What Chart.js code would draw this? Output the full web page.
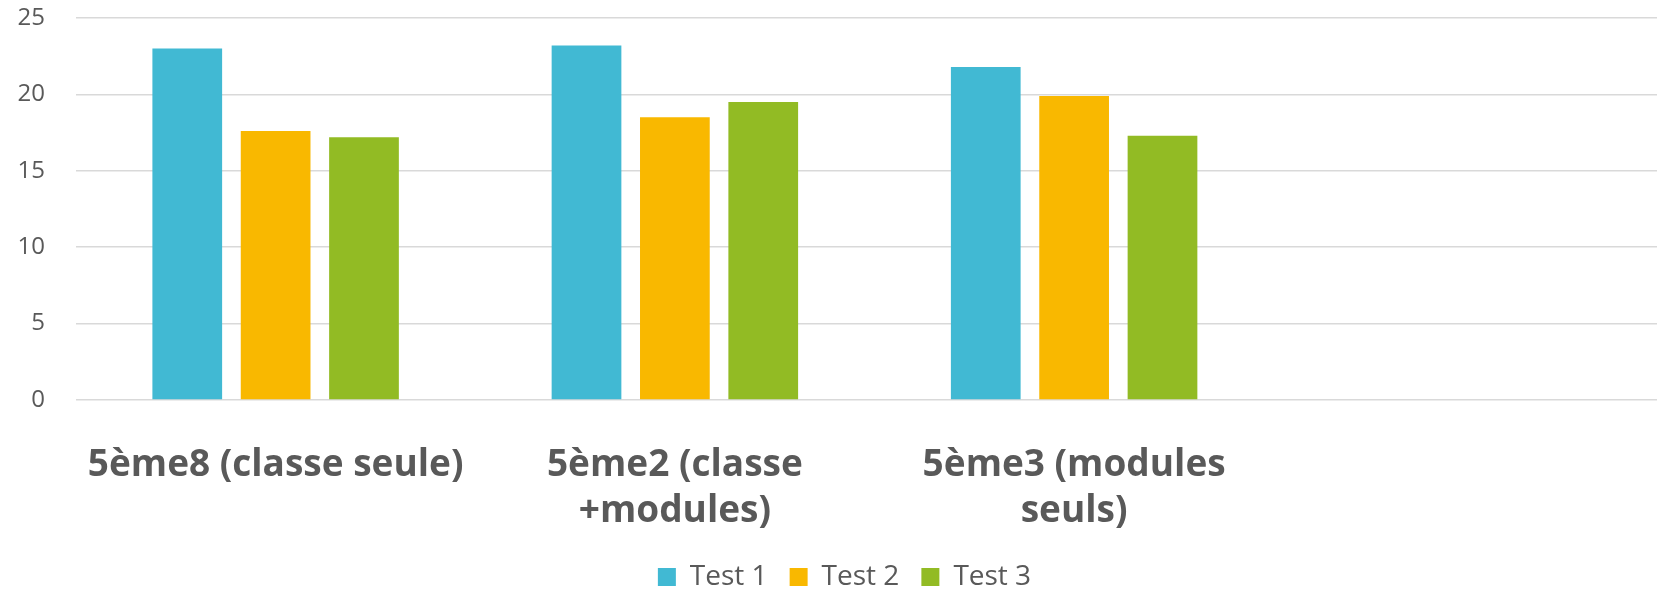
<!DOCTYPE html>
<html lang="fr">
<head>
<meta charset="utf-8">
<title>Résultats Test 1 / Test 2 / Test 3</title>
<script src="https://cdn.jsdelivr.net/npm/chart.js@4.4.1/dist/chart.umd.min.js"></script>
<style>
    html, body { margin: 0; padding: 0; background: #ffffff; overflow: hidden; }
    #wrap { width: 1704px; height: 601px; }
</style>
</head>
<body>
<div id="wrap"><canvas id="barChartTests" width="1704" height="601"></canvas></div>
<script>
// Classes (la 4e catégorie est vide dans le graphique d'origine)
const classes = [
    '5ème8 (classe seule)',
    ['5ème2 (classe', '+modules)'],
    ['5ème3 (modules', 'seuls)'],
    ''
];
const test1 = [23.0, 23.2, 21.8, null];
const test2 = [17.6, 18.5, 19.9, null];
const test3 = [17.2, 19.5, 17.3, null];
const seriesNames = ['Test 1', 'Test 2', 'Test 3'];
const yTicks = [0, 5, 10, 15, 20, 25];

const colors = ['#41b9d3', '#f9b800', '#92bb24'];
const textColor = '#595959';

Chart.defaults.font.family = '"Open Sans", sans-serif';
Chart.defaults.color = textColor;

const dataTests = {
    labels: classes,
    datasets: [test1, test2, test3].map((values, i) => ({
        label: seriesNames[i],
        data: values,
        backgroundColor: colors[i],
        borderWidth: 0,
        categoryPercentage: 0.664,
        barPercentage: 0.789
    }))
};

const configTests = {
    type: 'bar',
    data: dataTests,
    options: {
        responsive: false,
        animation: false,
        layout: {
            padding: { left: 16, right: 31, top: 18, bottom: 0 }
        },
        plugins: {
            tooltip: { enabled: false },
            legend: {
                position: 'bottom',
                labels: {
                    boxWidth: 18,
                    boxHeight: 18,
                    padding: 22,
                    color: textColor,
                    font: { size: 28 }
                }
            }
        },
        scales: {
            x: {
                grid: { display: false },
                border: { display: false },
                ticks: {
                    autoSkip: false,
                    maxRotation: 0,
                    padding: 34,
                    color: textColor,
                    font: { size: 37, weight: 'bold', lineHeight: 1.243 }
                },
                afterFit: axis => { axis.height = 141; }
            },
            y: {
                min: yTicks[0],
                max: yTicks[yTicks.length - 1],
                afterBuildTicks: axis => { axis.ticks = yTicks.map(v => ({ value: v })); },
                // marques de graduation invisibles : elles servent d'écart entre libellés et grille
                grid: { color: '#d9d9d9', lineWidth: 1.5, drawTicks: true, tickLength: 31, tickColor: 'rgba(0,0,0,0)' },
                border: { display: false },
                ticks: {
                    padding: 0,
                    color: textColor,
                    font: { size: 24 }
                },
                afterFit: axis => { axis.width = 60; }
            }
        }
    }
};

const ctxTests = document.getElementById('barChartTests').getContext('2d');
const barChartTests = new Chart(ctxTests, configTests);
</script>
</body>
</html>
